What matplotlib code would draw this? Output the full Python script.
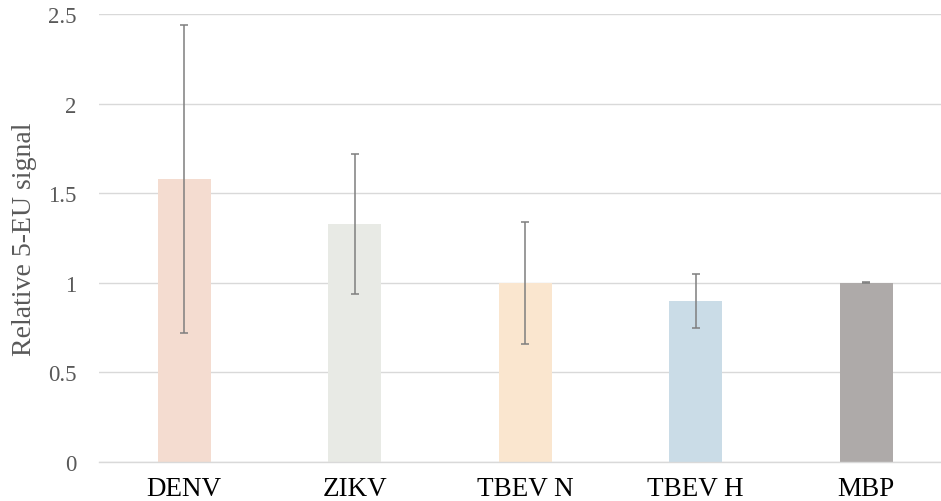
import matplotlib
matplotlib.use("Agg")
import matplotlib.pyplot as plt
import numpy as np

categories = ["DENV", "ZIKV", "TBEV N", "TBEV H", "MBP"]
values = [1.58, 1.33, 1.0, 0.90, 1.0]
errors = [0.86, 0.39, 0.34, 0.15, 0.002]
colors = ["#F4DCD0", "#E8EAE5", "#FAE6CF", "#CADCE7", "#AEAAA9"]
yticks = [0, 0.5, 1, 1.5, 2, 2.5]
ytick_labels = ["0", "0.5", "1", "1.5", "2", "2.5"]

plt.rcParams['font.family'] = ['Liberation Serif', 'DejaVu Serif']

fig = plt.figure(figsize=(9.41, 5.02), dpi=100)
W, H = 941, 502
ax = fig.add_axes([99 / W, 39 / H, 852.5 / W, 448 / H])

x = np.arange(len(categories))
ax.bar(x, values, width=0.31, color=colors, zorder=2)
ax.errorbar(x, values, yerr=errors, fmt='none', ecolor='#7F7F7F',
            elinewidth=1.1, capsize=3, capthick=1.1, zorder=3)

ax.set_xlim(-0.5, len(categories) - 0.5)
ax.set_ylim(0, 2.5)
ax.set_yticks(yticks)
ax.set_yticklabels(ytick_labels, color='#595959', fontsize=16.5)
ax.set_xticks(x)
ax.set_xticklabels(categories, color='black', fontsize=19.5)
ax.tick_params(axis='both', length=0)
ax.tick_params(axis='y', pad=16)
ax.tick_params(axis='x', pad=10)

ax.grid(axis='y', color='#D9D9D9', linewidth=1, zorder=0)
for s in ['top', 'right', 'left']:
    ax.spines[s].set_visible(False)
ax.spines['bottom'].set_color('#D9D9D9')
ax.spines['bottom'].set_linewidth(1)

ax.set_ylabel("Relative 5-EU signal", color='#595959', fontsize=20, labelpad=8)

fig.savefig("out.png", dpi=100)
